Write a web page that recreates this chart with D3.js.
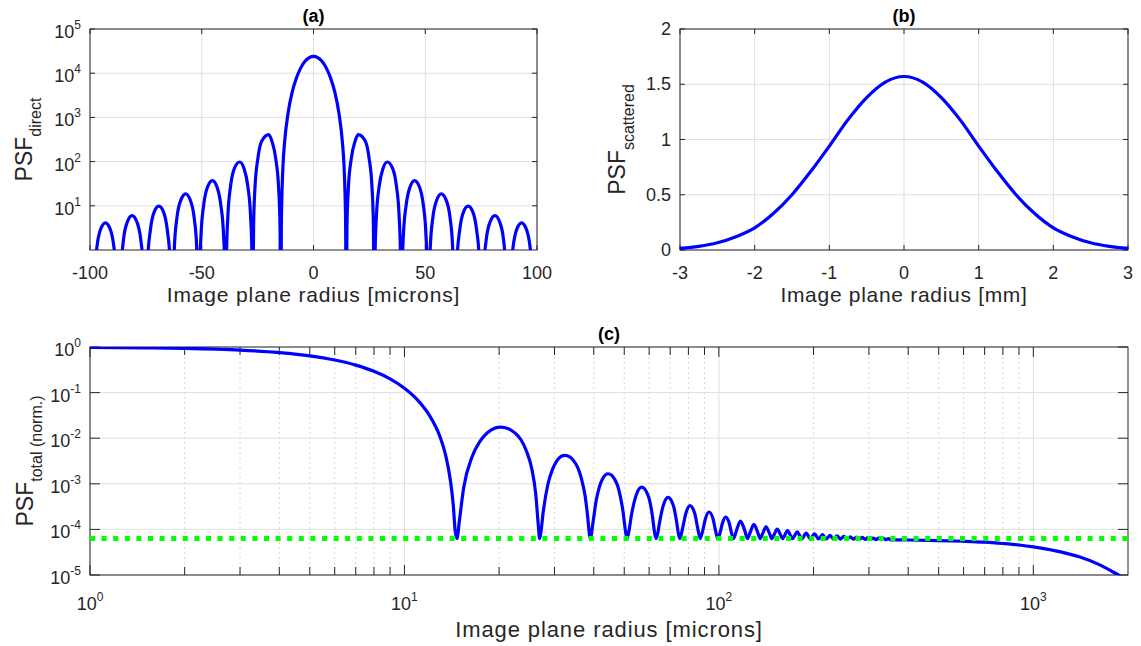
<!DOCTYPE html>
<html>
<head>
<meta charset="utf-8">
<script src="https://cdnjs.cloudflare.com/ajax/libs/d3/7.8.5/d3.min.js"></script>
<style>
  body { margin: 0; background: #fff; }
  svg { display: block; font-family: "Liberation Sans", Arial, Helvetica, sans-serif; }
</style>
</head>
<body>
<div id="chart"></div>
<script>
// (a) direct PSF vs image plane radius [microns]
var directR = [-100, -99.1, -98.1, -96.9, -95.3, -93.1, -90.9, -89.3, -88.06, -87.1,
  -86.1, -85.0, -83.3, -81.2, -79.0, -77.3, -76.15, -75.2,
  -74.2, -73.0, -71.4, -69.2, -67.0, -65.4, -64.2, -63.2,
  -62.25, -61.1, -59.4, -57.2, -55.1, -53.4, -52.25, -51.3,
  -50.9, -50.3, -49.1, -47.5, -45.2, -43.1, -41.5, -40.26, -39.66, -39.3,
  -38.9, -38.3, -37.1, -35.4, -33.0, -31.1, -29.4, -28.17, -27.56, -27.2,
  -26.8, -26.2, -24.9, -23.2, -20.0, -18.6, -16.9, -15.6, -14.98, -14.6,
  -14.4, -14.1, -13.6, -12.95, -11.4, -9.5, -7.6, -5.7, -3.8, -1.9, 0,
  1.9, 3.8, 5.7, 7.6, 9.5, 11.4, 12.95, 13.6, 14.1, 14.4,
  14.6, 14.98, 15.6, 16.9, 18.6, 20.0, 23.2, 24.9, 26.2, 26.8,
  27.2, 27.56, 28.17, 29.4, 31.1, 33.0, 35.4, 37.1, 38.3, 38.9,
  39.3, 39.66, 40.26, 41.5, 43.1, 45.2, 47.5, 49.1, 50.3, 50.9,
  51.3, 52.25, 53.4, 55.1, 57.2, 59.4, 61.1, 62.25,
  63.2, 64.2, 65.4, 67.0, 69.2, 71.4, 73.0, 74.2,
  75.2, 76.15, 77.3, 79.0, 81.2, 83.3, 85.0, 86.1,
  87.1, 88.06, 89.3, 90.9, 93.1, 95.3, 96.9, 98.1, 99.1, 100];
var directPsf = [0.05, 0.01, 0.25, 1.17, 2.9, 4.1, 2.9, 1.17, 0.25, 0.01,
  0.37, 1.74, 4.3, 6.0, 4.3, 1.74, 0.37, 0.01,
  0.6, 2.8, 7.0, 9.8, 7.0, 2.8, 0.6, 0.01,
  1.15, 5.4, 13.3, 18.7, 13.3, 5.4, 1.15, 0.01,
  0.33, 2.3, 10.7, 26, 37, 26, 10.7, 2.3, 0.33, 0.01,
  0.87, 6.0, 28, 70, 98, 70, 28, 6.0, 0.87, 0.01,
  3.6, 25, 117, 290, 407, 290, 117, 25, 3.6, 0.01,
  2.9, 19.5, 91, 270, 1230, 3800, 7900, 13200, 18600, 22500, 24000,
  22500, 18600, 13200, 7900, 3800, 1230, 270, 91, 19.5, 2.9,
  0.01, 3.6, 25, 117, 290, 407, 290, 117, 25, 3.6,
  0.01, 0.87, 6.0, 28, 70, 98, 70, 28, 6.0, 0.87,
  0.01, 0.33, 2.3, 10.7, 26, 37, 26, 10.7, 2.3, 0.33,
  0.01, 1.15, 5.4, 13.3, 18.7, 13.3, 5.4, 1.15,
  0.01, 0.6, 2.8, 7.0, 9.8, 7.0, 2.8, 0.6,
  0.01, 0.37, 1.74, 4.3, 6.0, 4.3, 1.74, 0.37,
  0.01, 0.25, 1.17, 2.9, 4.1, 2.9, 1.17, 0.25, 0.01, 0.05];

// (b) scattered PSF vs image plane radius [mm]
var scatR = [-3, -2.75, -2.5, -2.25, -2, -1.75, -1.5, -1.25, -1, -0.75, -0.5, -0.25, 0,
  0.25, 0.5, 0.75, 1, 1.25, 1.5, 1.75, 2, 2.25, 2.5, 2.75, 3];
var scatPsf = [0.015, 0.033, 0.065, 0.12, 0.20, 0.33, 0.50, 0.71, 0.94, 1.18, 1.38, 1.52, 1.57,
  1.52, 1.38, 1.18, 0.94, 0.71, 0.50, 0.33, 0.20, 0.12, 0.065, 0.033, 0.015];

// (c) total PSF (normalised) vs image plane radius [microns], log-log
var totalR = [1, 1.5, 2, 3, 4, 5, 6, 7, 8, 9, 10, 11, 12, 13, 13.5, 14, 14.3, 14.5, 14.7,
  14.94, 15.43, 16.41, 17.38, 18.36, 19.34, 20.19, 21.41, 22.39, 23.48, 24.46, 25.44, 26.17, 26.66, 26.9,
  27.14, 27.63, 28.59, 29.56, 30.53, 31.50, 32.35, 33.56, 34.52, 35.61, 36.58, 37.55, 38.27, 38.76, 39.0,
  39.72, 40.68, 41.64, 42.6, 43.56, 44.4, 45.6, 46.56, 47.64, 48.6, 49.56, 50.28, 51.0,
  51.73, 52.69, 54.39, 56.8, 59.71, 61.41, 62.37, 63.1,
  63.82, 64.78, 66.46, 68.9, 71.74, 73.42, 74.38, 75.1,
  76.79, 78.49, 80.9, 83.81, 85.51, 87.2,
  88.88, 90.56, 93.0, 95.84, 97.52, 99.2,
  100.9, 102.6, 105.0, 107.9, 109.6, 111.3,
  113.7, 117.1, 120.9, 123.3, 125.7, 129.2, 132.9, 135.3,
  137.7, 141.2, 145.0, 147.4, 149.8, 153.3, 157.0, 159.4,
  161.8, 165.3, 169.0, 171.4, 173.8, 177.4, 181.1, 183.5,
  189.5, 195.5, 201.5, 207.5, 213.5, 219.6, 225.6, 231.6, 237.6, 243.6,
  249.6, 255.6, 261.7, 267.7, 273.7, 279.7, 285.7, 291.7, 297.8, 303.8,
  309.8, 315.8, 321.8, 327.8, 333.8, 339.8, 345.9, 351.9,
  400, 500, 600, 700, 800, 900, 1000, 1200, 1400, 1600, 1800, 2000];
var totalPsf = [0.983, 0.961, 0.933, 0.855, 0.753, 0.641, 0.519, 0.401, 0.293, 0.200,
  0.125, 0.0693, 0.0318, 0.0104, 0.00444, 0.00118, 3.4e-4, 9.3e-5, 6.3e-5,
  1.48e-4, 8.19e-4, 3.92e-3, 8.50e-3, 0.01319, 0.01654, 0.0175, 0.01618, 0.01326, 9.24e-3, 5.11e-3, 2.06e-3, 5.74e-4, 1.2e-4, 6.3e-5,
  8.32e-5, 2.43e-4, 9.79e-4, 2.07e-3, 3.18e-3, 3.98e-3, 4.22e-3, 3.89e-3, 3.20e-3, 2.24e-3, 1.26e-3, 5.38e-4, 1.84e-4, 7.66e-5, 6.3e-5,
  1.32e-4, 4.15e-4, 8.35e-4, 1.26e-3, 1.57e-3, 1.66e-3, 1.54e-3, 1.27e-3, 9.02e-4, 5.25e-4, 2.46e-4, 1.10e-4, 6.3e-5,
  9.03e-5, 2.04e-4, 5.26e-4, 8.43e-4, 5.26e-4, 2.04e-4, 9.03e-5, 6.3e-5,
  7.84e-5, 1.43e-4, 3.24e-4, 5.03e-4, 3.24e-4, 1.43e-4, 7.84e-5, 6.3e-5,
  1.12e-4, 2.23e-4, 3.33e-4, 2.23e-4, 1.12e-4, 6.3e-5,
  9.52e-5, 1.69e-4, 2.41e-4, 1.69e-4, 9.52e-5, 6.29e-5,
  8.54e-5, 1.36e-4, 1.865e-4, 1.36e-4, 8.54e-5, 6.29e-5,
  9.35e-5, 1.52e-4, 9.35e-5, 6.28e-5, 8.56e-5, 1.29e-4, 8.56e-5, 6.27e-5,
  8.01e-5, 1.134e-4, 8.01e-5, 6.25e-5, 7.62e-5, 1.02e-4, 7.62e-5, 6.24e-5,
  7.33e-5, 9.41e-5, 7.33e-5, 6.23e-5, 7.12e-5, 8.8e-5, 7.12e-5, 6.22e-5,
  8.32e-5, 6.21e-5, 7.95e-5, 6.19e-5, 7.65e-5, 6.17e-5, 7.41e-5, 6.15e-5, 7.21e-5, 6.13e-5,
  7.04e-5, 6.10e-5, 6.89e-5, 6.08e-5, 6.77e-5, 6.06e-5, 6.66e-5, 6.04e-5, 6.57e-5, 6.02e-5,
  6.48e-5, 5.99e-5, 6.41e-5, 5.97e-5, 6.33e-5, 5.94e-5, 6.28e-5, 5.92e-5,
  5.85e-5, 5.7e-5, 5.5e-5, 5.25e-5, 4.9e-5, 4.55e-5, 4.15e-5, 3.3e-5, 2.5e-5, 1.75e-5, 1.15e-5, 7.5e-6];

// scattered-light floor (green dotted line)
var floorR = [1, 2000];
var floorPsf = [6.3e-5, 6.3e-5];

// ticks
var aXTicks = [-100, -50, 0, 50, 100];
var aYTicks = [1e1, 1e2, 1e3, 1e4, 1e5];
var bXTicks = [-3, -2, -1, 0, 1, 2, 3];
var bYTicks = [0, 0.5, 1, 1.5, 2];
var cXTicks = [1, 10, 100, 1000];
var cYTicks = [1e-5, 1e-4, 1e-3, 1e-2, 1e-1, 1];

var ink = "#262626";
var svg = d3.select("#chart").append("svg")
  .attr("width", 1141)
  .attr("height", 646);

function pts(xs, ys) {
  return xs.map(function(x, i) { return [x, ys[i]]; });
}

function addPow(t, v) {
  var e = Math.round(Math.log10(v));
  t.append("tspan").text("10");
  t.append("tspan").attr("dy", -9).style("font-size", "12px").text(e);
}

// draws grid, box, ticks and tick labels, returns a clipped group for data
function panel(name, box, x, y, o) {
  var g = svg.append("g");
  var len = o.tickLen;

  if (o.xMinor) {
    g.selectAll(null).data(o.xMinor).enter().append("line")
      .attr("x1", x).attr("x2", x)
      .attr("y1", box.t).attr("y2", box.b)
      .attr("stroke", "#d6d6d6").attr("stroke-dasharray", "2,3");
  }
  g.selectAll(null).data(o.xTicks).enter().append("line")
    .attr("x1", x).attr("x2", x)
    .attr("y1", box.t).attr("y2", box.b)
    .attr("stroke", "#e0e0e0");
  g.selectAll(null).data(o.yTicks).enter().append("line")
    .attr("y1", y).attr("y2", y)
    .attr("x1", box.l).attr("x2", box.r)
    .attr("stroke", "#e0e0e0");

  g.append("rect")
    .attr("x", box.l).attr("y", box.t)
    .attr("width", box.r - box.l).attr("height", box.b - box.t)
    .attr("fill", "none").attr("stroke", ink).attr("stroke-width", 1);

  var xt = o.xTicks.map(function(v) { return { v: v, len: len }; });
  if (o.xMinor) xt = xt.concat(o.xMinor.map(function(v) { return { v: v, len: o.minorLen }; }));
  [box.b, box.t].forEach(function(edge, k) {
    g.selectAll(null).data(xt).enter().append("line")
      .attr("x1", function(d) { return x(d.v); })
      .attr("x2", function(d) { return x(d.v); })
      .attr("y1", edge)
      .attr("y2", function(d) { return k ? edge + d.len : edge - d.len; })
      .attr("stroke", ink);
  });
  [box.l, box.r].forEach(function(edge, k) {
    g.selectAll(null).data(o.yTicks).enter().append("line")
      .attr("y1", y).attr("y2", y)
      .attr("x1", edge)
      .attr("x2", k ? edge - len : edge + len)
      .attr("stroke", ink);
  });

  g.selectAll(null).data(o.xTicks).enter().append("text")
    .attr("x", x).attr("y", box.b + o.xLabOff)
    .attr("text-anchor", "middle")
    .attr("fill", ink).style("font-size", "18px")
    .each(function(v) {
      if (o.logX) addPow(d3.select(this), v); else d3.select(this).text(v);
    });
  g.selectAll(null).data(o.yTicks).enter().append("text")
    .attr("x", box.l - 9).attr("y", function(v) { return y(v) + o.yLabOff; })
    .attr("text-anchor", "end")
    .attr("fill", ink).style("font-size", "18px")
    .each(function(v) {
      if (o.logY) addPow(d3.select(this), v); else d3.select(this).text(v);
    });

  svg.append("clipPath").attr("id", "clip-" + name)
    .append("rect")
    .attr("x", box.l).attr("y", box.t)
    .attr("width", box.r - box.l).attr("height", box.b - box.t);
  return svg.append("g").attr("clip-path", "url(#clip-" + name + ")");
}

function title(txt, cx, y) {
  svg.append("text").attr("x", cx).attr("y", y)
    .attr("text-anchor", "middle")
    .style("font-size", "18px").style("font-weight", "bold")
    .attr("fill", "#000").text(txt);
}

function xLabel(txt, cx, y, size, spacing) {
  svg.append("text").attr("x", cx).attr("y", y)
    .attr("text-anchor", "middle")
    .style("font-size", size + "px")
    .style("letter-spacing", spacing + "px")
    .attr("fill", ink).text(txt);
}

function yLabel(main, sub, bx, cy) {
  var t = svg.append("text")
    .attr("transform", "translate(" + bx + "," + cy + ") rotate(-90)")
    .attr("text-anchor", "middle")
    .attr("fill", ink).style("font-size", "23px");
  t.append("tspan").text(main);
  t.append("tspan").attr("dy", 9).style("font-size", "16px").text(sub);
}

var blueLine = function(x, y) {
  return d3.line()
    .x(function(d) { return x(d[0]); })
    .y(function(d) { return y(d[1]); })
    .curve(d3.curveMonotoneX);
};

// ---------- (a) ----------
var A = { l: 90, r: 537, t: 29, b: 250 };
var ax = d3.scaleLinear().domain([-100, 100]).range([A.l, A.r]);
var ay = d3.scaleLog().domain([1, 1e5]).range([A.b, A.t]);
var plotA = panel("a", A, ax, ay, {
  xTicks: aXTicks, yTicks: aYTicks, tickLen: 5,
  logY: true, xLabOff: 28.5, yLabOff: 9
});
plotA.append("path")
  .datum(pts(directR, directPsf))
  .attr("fill", "none").attr("stroke", "#0000ff").attr("stroke-width", 3.2)
  .attr("stroke-linejoin", "round")
  .attr("d", blueLine(ax, ay));
title("(a)", (A.l + A.r) / 2, 22);
xLabel("Image plane radius [microns]", (A.l + A.r) / 2, 301.5, 21, 0.85);
yLabel("PSF", "direct", 32, (A.t + A.b) / 2);

// ---------- (b) ----------
var B = { l: 680, r: 1128, t: 29, b: 250 };
var bx = d3.scaleLinear().domain([-3, 3]).range([B.l, B.r]);
var by = d3.scaleLinear().domain([0, 2]).range([B.b, B.t]);
var plotB = panel("b", B, bx, by, {
  xTicks: bXTicks, yTicks: bYTicks, tickLen: 5,
  xLabOff: 28.5, yLabOff: 6
});
plotB.append("path")
  .datum(pts(scatR, scatPsf))
  .attr("fill", "none").attr("stroke", "#0000ff").attr("stroke-width", 3.2)
  .attr("d", blueLine(bx, by));
title("(b)", (B.l + B.r) / 2, 22);
xLabel("Image plane radius [mm]", (B.l + B.r) / 2, 301.5, 21, 0.7);
yLabel("PSF", "scattered", 625, (B.t + B.b) / 2);

// ---------- (c) ----------
var C = { l: 90, r: 1128, t: 347, b: 575 };
var cx = d3.scaleLog().domain([1, 2000]).range([C.l, C.r]);
var cy = d3.scaleLog().domain([1e-5, 1]).range([C.b, C.t]);
var cMinor = cx.ticks().filter(function(v) {
  return cXTicks.indexOf(v) < 0 && v < 2000;
});
var plotC = panel("c", C, cx, cy, {
  xTicks: cXTicks, yTicks: cYTicks, xMinor: cMinor, tickLen: 10, minorLen: 8,
  logX: true, logY: true, xLabOff: 35, yLabOff: 9
});
plotC.append("path")
  .datum(pts(totalR, totalPsf))
  .attr("fill", "none").attr("stroke", "#0000ff").attr("stroke-width", 3.2)
  .attr("stroke-linejoin", "round")
  .attr("d", blueLine(cx, cy));
plotC.append("path")
  .datum(pts(floorR, floorPsf))
  .attr("fill", "none").attr("stroke", "#00ff00").attr("stroke-width", 5)
  .attr("stroke-dasharray", "5,6.6")
  .attr("d", d3.line().x(function(d) { return cx(d[0]); }).y(function(d) { return cy(d[1]); }));
title("(c)", (C.l + C.r) / 2, 340);
xLabel("Image plane radius [microns]", (C.l + C.r) / 2, 637, 22, 0.9);
yLabel("PSF", "total (norm.)", 33, (C.t + C.b) / 2);
</script>
</body>
</html>
